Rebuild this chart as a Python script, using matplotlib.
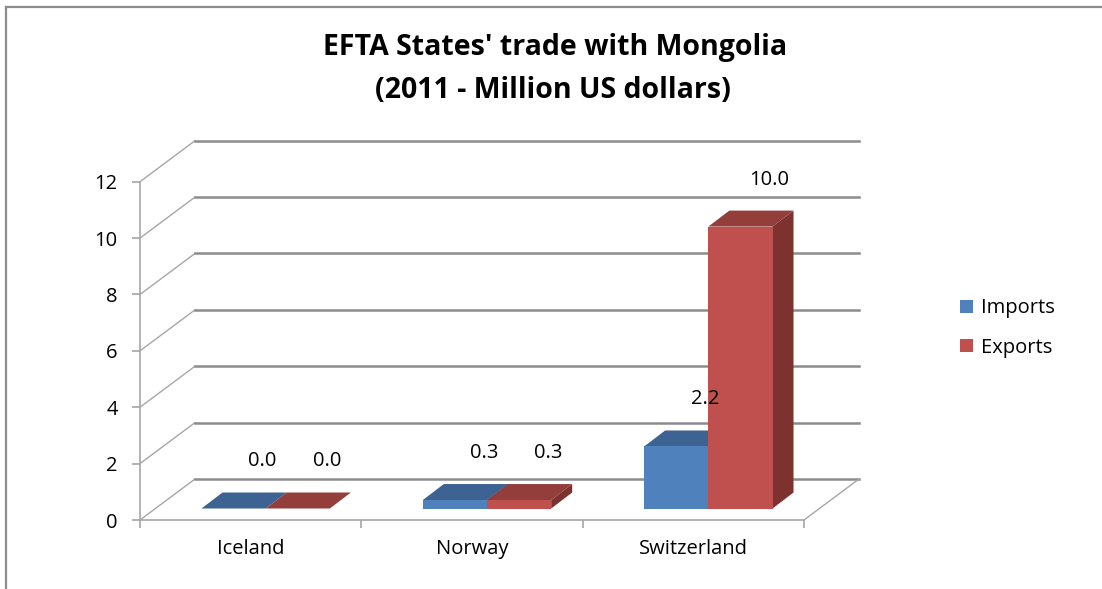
import numpy as np
import matplotlib
matplotlib.use('Agg')
import matplotlib.pyplot as plt
from matplotlib.patches import Polygon, Patch
from matplotlib.lines import Line2D

plt.rcParams['font.family'] = ['Open Sans', 'DejaVu Sans']

# data
countries = ['Iceland', 'Norway', 'Switzerland']
imports = [0.0, 0.3, 2.2]
exports = [0.0, 0.3, 10.0]
series_names = ['Imports', 'Exports']
yticks = [0, 2, 4, 6, 8, 10, 12]

# colours: front, top, side
cols = {
    'Imports': ('#4F81BD', '#3C6391', '#2F4D73'),
    'Exports': ('#C0504D', '#943E3B', '#7D3230'),
}

W, H = 1102, 589
fig = plt.figure(figsize=(W / 100, H / 100), dpi=100)
# front plane of the pseudo 3d box, in pixels
x_left, x_right, y_zero, y_top = 140, 804, 520, 181.7
ax = fig.add_axes([x_left / W, (H - y_zero) / H, (x_right - x_left) / W, (y_zero - y_top) / H])
ax.set_xlim(0, 3)
ax.set_ylim(0, 12)

ux = (x_right - x_left) / 3.0      # px per category
uy = (y_zero - y_top) / 12.0       # px per unit value

def px(dx, dy):
    # pixel offset (dy up) -> data offset
    return dx / ux, dy / uy

Dx, Dy = px(55, 41)          # full depth of the floor
Fx, Fy = px(15, 11.5)        # bar front relative to front plane
Bx, By = px(21, 16)          # depth of a bar

grid_c = '#8C8C8C'
diag_c = '#A6A6A6'
fs = 14.5

# side wall diagonals and back wall gridlines
for v in yticks:
    ax.plot([0, Dx], [v, v + Dy], color=diag_c, lw=1.0, clip_on=False, zorder=1)
    ax.plot([Dx, 3 + Dx], [v + Dy, v + Dy], color=grid_c, lw=1.8, clip_on=False, zorder=1)
# right floor edge
ax.plot([3, 3 + Dx], [0, Dy], color=diag_c, lw=1.0, clip_on=False, zorder=1)

# bars
bw = 0.29
for i, name in enumerate(series_names):
    vals = imports if name == 'Imports' else exports
    front, top, side = cols[name]
    for j, v in enumerate(vals):
        x0 = j + 0.5 - bw + i * bw + Fx
        x1 = x0 + bw
        y0 = Fy
        y1 = Fy + v
        # top face
        ax.add_patch(Polygon([(x0, y1), (x1, y1), (x1 + Bx, y1 + By), (x0 + Bx, y1 + By)],
                             closed=True, fc=top, ec='none', clip_on=False, zorder=3 + i))
        if v > 0:
            ax.add_patch(Polygon([(x1, y0), (x1 + Bx, y0 + By), (x1 + Bx, y1 + By), (x1, y1)],
                                 closed=True, fc=side, ec='none', clip_on=False, zorder=3 + i))
            ax.add_patch(Polygon([(x0, y0), (x1, y0), (x1, y1), (x0, y1)],
                                 closed=True, fc=front, ec='none', clip_on=False, zorder=3 + i))
        lx, ly = px(29, 47)
        ax.text((x0 + x1) / 2 + lx, y1 + ly, '%.1f' % v, ha='center', va='center',
                fontsize=fs, color='black', zorder=6)

# axes styling
for s in ['top', 'right']:
    ax.spines[s].set_visible(False)
for s in ['left', 'bottom']:
    ax.spines[s].set_color(diag_c)
    ax.spines[s].set_linewidth(1.2)
ax.set_yticks(yticks)
ax.set_yticklabels([str(t) for t in yticks], fontsize=fs)
ax.tick_params(axis='y', length=6, width=1.2, color=diag_c, pad=10)
ax.set_xticks([0, 1, 2, 3])
ax.set_xticklabels([])
ax.tick_params(axis='x', which='major', length=6, width=1.2, color=diag_c, direction='out')
ax.set_xticks([0.5, 1.5, 2.5], minor=True)
ax.set_xticklabels(countries, minor=True, fontsize=fs)
ax.tick_params(axis='x', which='minor', length=0, pad=14)
ax.patch.set_visible(False)

# title
fig.text(555 / W, 1 - 47 / H, "EFTA States' trade with Mongolia", ha='center', va='center',
         fontsize=20.5, fontweight='bold')
fig.text(553 / W, 1 - 90 / H, "(2011 - Million US dollars)", ha='center', va='center',
         fontsize=20.5, fontweight='bold')

# legend
handles = [Patch(fc=cols[n][0], ec='none') for n in series_names]
fig.legend(handles, series_names, loc='center left', bbox_to_anchor=(942 / W, 1 - 328 / H),
           frameon=False, fontsize=fs, handlelength=0.65, handleheight=0.65,
           handletextpad=0.4, labelspacing=0.95)

# chart border (cut off at right and bottom)
fig.add_artist(Line2D([5.5 / W, 5.5 / W], [0, 1 - 7 / H], color=grid_c, lw=1.6))
fig.add_artist(Line2D([5.5 / W, 1], [1 - 7 / H, 1 - 7 / H], color=grid_c, lw=1.6))

fig.savefig('out.png', dpi=100)
